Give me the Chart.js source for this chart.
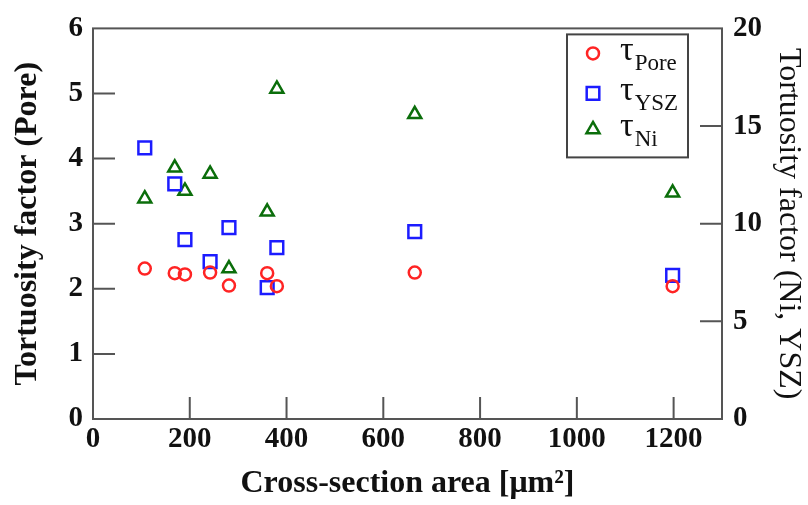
<!DOCTYPE html>
<html><head><meta charset="utf-8">
<script src="https://cdn.jsdelivr.net/npm/chart.js@4"></script>
<style>html,body{margin:0;padding:0;background:#fff}#wrap{width:808px;height:505px}</style>
</head><body><div id="wrap"><canvas id="c" width="808" height="505"></canvas></div>
<script>
// ---- data ----
const areas   = [107, 169, 190, 242, 281, 360, 380, 665, 1198];
const tauPore = [2.31, 2.24, 2.22, 2.25, 2.05, 2.24, 2.04, 2.25, 2.04];
const tauYSZ  = [13.88, 12.04, 9.18, 8.06, 9.8, 6.73, 8.78, 9.6, 7.35];
const tauNi   = [11.28, 12.86, 11.68, 12.55, 7.7, 10.61, 16.9, 15.6, 11.58];
const xTickVals     = [0, 200, 400, 600, 800, 1000, 1200];
const yLeftTickVals = [0, 1, 2, 3, 4, 5, 6];
const yRightTickVals= [0, 5, 10, 15, 20];
const legendSubs    = ['Pore', 'YSZ', 'Ni'];
const xTitle  = 'Cross-section area [\u03bcm\u00b2]';
const yTitle  = 'Tortuosity factor (Pore)';
const y2Title = 'Tortuosity factor (Ni, YSZ)';

const RED = '#ff2424', BLUE = '#1c1cff', GREEN = '#0b6e0b', FRAME = '#555';
const SERIF = "'Liberation Serif', 'Times New Roman', serif";
const toPts = (ys) => areas.map((a, i) => ({x: a, y: ys[i]}));

function drawMarker(ctx, style, x, y, color) {
  ctx.save();
  ctx.strokeStyle = color; ctx.lineWidth = 2.5;
  ctx.beginPath();
  if (style === 'circle') ctx.arc(x, y, 6, 0, Math.PI * 2);
  else if (style === 'rect') ctx.rect(x - 6.3, y - 6.3, 12.6, 12.6);
  else { const r = 7.5; ctx.moveTo(x, y - r); ctx.lineTo(x + r * 0.866, y + r / 2); ctx.lineTo(x - r * 0.866, y + r / 2); ctx.closePath(); }
  ctx.stroke();
  ctx.restore();
}

const frameTicks = {
  id: 'frameTicks',
  beforeDatasetsDraw(chart) {
    const {ctx, chartArea: {left, right, top, bottom}, scales: {x, y, y2}} = chart;
    ctx.save();
    ctx.strokeStyle = FRAME; ctx.lineWidth = 2;
    ctx.strokeRect(left, top, right - left, bottom - top);
    ctx.beginPath();
    const L = 22;
    x.ticks.forEach(t => { if (t.value > x.min && t.value < x.max) { const p = x.getPixelForValue(t.value); ctx.moveTo(p, bottom); ctx.lineTo(p, bottom - L); } });
    y.ticks.forEach(t => { if (t.value > y.min && t.value < y.max) { const p = y.getPixelForValue(t.value); ctx.moveTo(left, p); ctx.lineTo(left + L, p); } });
    y2.ticks.forEach(t => { if (t.value > y2.min && t.value < y2.max) { const p = y2.getPixelForValue(t.value); ctx.moveTo(right, p); ctx.lineTo(right - L, p); } });
    ctx.stroke();
    ctx.restore();
  },
  afterDraw(chart) {
    const {ctx, chartArea: {right, top}} = chart;
    const bw = 121, bh = 123;
    const bx = right - 34 - bw, by = top + 6;
    ctx.save();
    ctx.fillStyle = '#fff'; ctx.fillRect(bx, by, bw, bh);
    ctx.strokeStyle = '#444'; ctx.lineWidth = 2;
    ctx.strokeRect(bx, by, bw, bh);
    const rows = [19, 59, 95];
    chart.data.datasets.forEach((ds, i) => {
      const my = by + rows[i];
      drawMarker(ctx, ds.pointStyle, bx + 26, my, ds.borderColor);
      ctx.fillStyle = '#111';
      ctx.textBaseline = 'alphabetic'; ctx.textAlign = 'left';
      ctx.font = "34px " + SERIF;
      ctx.fillText('\u03c4', bx + 53, my + 7);
      const tw = ctx.measureText('\u03c4').width;
      ctx.font = "23px " + SERIF;
      ctx.fillText(legendSubs[i], bx + 54 + tw, my + 17);
    });
    ctx.restore();
  }
};

const tickFont = {family: SERIF, size: 29, weight: 'bold'};
const plain = v => String(v);

new Chart(document.getElementById('c'), {
  type: 'scatter',
  data: {
    datasets: [
      {label: 'Pore', data: toPts(tauPore), yAxisID: 'y', pointStyle: 'circle', pointRadius: 6, pointHoverRadius: 6, borderColor: RED, backgroundColor: 'rgba(0,0,0,0)', pointBorderWidth: 2.5},
      {label: 'YSZ', data: toPts(tauYSZ), yAxisID: 'y2', pointStyle: 'rect', pointRadius: 9, pointHoverRadius: 9, borderColor: BLUE, backgroundColor: 'rgba(0,0,0,0)', pointBorderWidth: 2.5},
      {label: 'Ni', data: toPts(tauNi), yAxisID: 'y2', pointStyle: 'triangle', pointRadius: 7.5, pointHoverRadius: 7.5, borderColor: GREEN, backgroundColor: 'rgba(0,0,0,0)', pointBorderWidth: 2.5}
    ]
  },
  options: {
    responsive: false, animation: false, devicePixelRatio: 1,
    layout: {padding: {top: 27, left: 0, right: 0, bottom: 0}},
    plugins: {legend: {display: false}, tooltip: {enabled: false}},
    scales: {
      x: {
        type: 'linear', min: 0, max: 1300,
        afterBuildTicks: s => { s.ticks = xTickVals.map(v => ({value: v})); },
        afterFit: s => { s.height = 86; },
        grid: {display: false, drawTicks: false, tickLength: 0}, border: {display: false},
        ticks: {color: '#111', padding: 3, maxRotation: 0, font: tickFont, callback: plain},
        title: {display: true, text: xTitle, color: '#111', padding: {top: 0, bottom: 2}, font: {family: SERIF, size: 32, weight: 'bold'}}
      },
      y: {
        type: 'linear', position: 'left', min: 0, max: 6,
        afterBuildTicks: s => { s.ticks = yLeftTickVals.map(v => ({value: v})); },
        afterFit: s => { s.width = 93; },
        grid: {display: false, drawTicks: false, tickLength: 0}, border: {display: false},
        ticks: {color: '#111', padding: 10, font: tickFont, callback: plain},
        title: {display: true, text: yTitle, color: '#111', padding: {top: 9, bottom: 0}, font: {family: SERIF, size: 32, weight: 'bold'}}
      },
      y2: {
        type: 'linear', position: 'right', min: 0, max: 20,
        afterBuildTicks: s => { s.ticks = yRightTickVals.map(v => ({value: v})); },
        afterFit: s => { s.width = 86; },
        grid: {display: false, drawTicks: false, tickLength: 0}, border: {display: false},
        ticks: {color: '#111', padding: 11, font: tickFont, callback: plain},
        title: {display: true, text: y2Title, color: '#111', padding: {top: 0, bottom: 0}, font: {family: SERIF, size: 32, weight: 'normal'}}
      }
    }
  },
  plugins: [frameTicks]
});
</script>
</body></html>
